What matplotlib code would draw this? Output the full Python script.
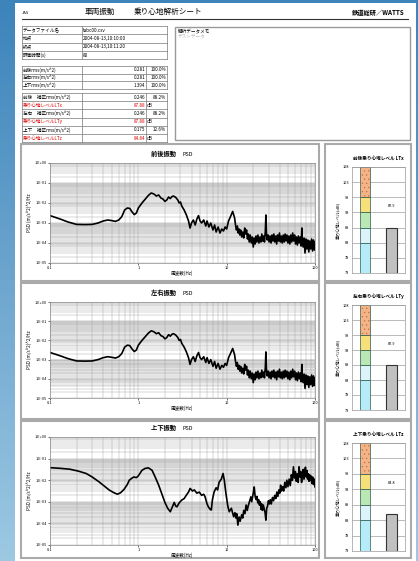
import numpy as np
import matplotlib
matplotlib.use('Agg')
import matplotlib.pyplot as plt
from matplotlib.patches import Rectangle

plt.rcParams['font.family'] = ['Noto Sans CJK JP', 'DejaVu Sans']
plt.rcParams['hatch.linewidth'] = 0.4

W, H = 418, 561

# ---- table data ----
info_labels = ['データファイル名', '始点', '終点', '評価時間(s)']
info_values = ['tabc00.csv', '2004-08-13,10:10:00', '2004-08-13,10:11:20', '80']

rms_labels = ['前後rms(m/s^2)', '左右rms(m/s^2)', '上下rms(m/s^2)']
rms_values = ['0.281', '0.281', '1.394']
rms_pct = ['100.0%', '100.0%', '100.0%']

lt_labels = ['前後　補正rms(m/s^2)', '乗り心地レベルLTx', '左右　補正rms(m/s^2)',
             '乗り心地レベルLTy', '上下　補正rms(m/s^2)', '乗り心地レベルLTz']
lt_values = ['0.246', '87.88', '0.246', '87.88', '0.175', '84.84']
lt_units = ['88.2%', 'dB', '88.2%', 'dB', '12.6%', 'dB']

# ---- PSD data (frequency Hz, log10 of PSD) ----
freq_x = [0.1, 0.13, 0.16, 0.2, 0.25, 0.3, 0.35, 0.4, 0.45, 0.5, 0.55, 0.6, 0.65, 0.7,
          0.75, 0.8, 0.85, 0.9, 0.95, 1.0, 1.1, 1.2, 1.3, 1.4, 1.5, 1.6, 1.7, 1.8, 1.9,
          2.0, 2.1, 2.2, 2.3, 2.4, 2.5, 2.65, 2.8, 2.9, 3.0, 3.1, 3.3, 3.5, 3.7, 3.85,
          4.0, 4.2, 4.4, 4.6, 4.8, 5.0, 5.2, 5.5, 5.8, 6.0, 6.3, 6.6, 7.0, 7.3, 7.6, 8.0,
          8.4, 8.8, 9.2, 9.6, 10.0, 10.5, 11.0, 11.7,
          12.3, 12.6, 12.9, 13.2, 13.5, 13.8, 14.1, 14.4, 14.8, 15.2, 15.6, 16.0, 16.4,
          16.8, 17.2, 17.6, 18.0, 18.5, 19.0, 19.5, 20.0, 20.5, 21.0, 21.5, 22.0, 22.6,
          23.2, 23.8, 24.4, 25.0, 25.6, 26.2, 26.8, 27.4, 27.8, 28.2, 28.8, 29.5, 30.2,
          31.0, 31.8, 32.6, 33.4, 34.2, 35.0, 35.9, 36.8, 37.7, 38.6, 39.6, 40.6, 41.6,
          42.6, 43.7, 44.8, 45.9, 47.0, 48.2, 49.4, 50.6, 51.9, 53.2, 54.5, 55.9, 57.3,
          58.7, 60.2, 61.7, 63.2, 64.8, 66.4, 68.1, 69.8, 71.0, 71.6, 73.4, 75.2, 77.1,
          79.0, 81.0, 83.0, 85.1, 87.2, 89.4, 91.6, 93.9, 96.2, 98.6, 100]
logpsd_x = [-2.63, -2.80, -2.95, -3.07, -3.08, -3.07, -3.0, -2.90, -2.85, -2.88, -2.92,
            -2.85, -2.68, -2.35, -2.25, -2.27, -2.45, -2.58, -2.50, -2.25, -2.0, -1.8,
            -1.62, -1.5, -1.55, -1.65, -1.6, -1.75, -1.80, -1.92, -1.85, -1.70, -1.78,
            -1.68, -1.65, -1.72, -1.85, -2.0, -1.95, -2.15, -2.35, -2.6, -2.9, -3.25,
            -3.0, -2.85, -3.1, -2.8, -2.63, -2.9, -3.0, -2.85, -3.15, -2.9, -3.2, -3.0,
            -3.35, -3.1, -3.45, -3.2, -3.5, -3.3, -3.4, -3.2, -3.3, -2.9, -2.7, -2.42,
            -2.75, -3.1, -3.35, -3.15, -3.5, -3.3, -3.6, -3.35, -3.7, -3.45, -3.75, -3.25,
            -3.55, -3.35, -3.8, -3.55, -3.95, -3.6, -4.0, -3.7, -4.2, -3.75, -4.05, -3.65,
            -3.95, -3.6, -4.0, -3.7, -3.95, -3.55, -3.9, -3.65, -3.95, -3.4, -2.6, -3.5,
            -3.85, -3.6, -3.95, -3.65, -4.0, -3.6, -3.9, -3.55, -3.95, -3.65, -4.05, -3.6,
            -3.9, -3.5, -3.95, -3.65, -4.0, -3.6, -3.95, -3.55, -3.9, -3.6, -4.0, -3.65,
            -4.05, -3.6, -3.95, -3.5, -3.9, -3.6, -4.05, -3.7, -4.1, -3.65, -4.0, -3.7,
            -4.15, -3.25, -3.8, -4.2, -3.75, -4.5, -3.8, -4.3, -3.85, -4.45, -3.9, -4.3,
            -3.8, -4.4, -3.85, -4.35, -3.95]

# 左右 is the same record as 前後 in this sheet
freq_y = freq_x
logpsd_y = logpsd_x

freq_z = [0.1, 0.13, 0.167, 0.21, 0.257, 0.3, 0.36, 0.42, 0.47, 0.53, 0.58, 0.63, 0.69,
          0.75, 0.79, 0.85, 0.89, 0.95, 1.0, 1.1, 1.2, 1.3, 1.43, 1.55, 1.7, 1.85, 2.0,
          2.15, 2.3, 2.45, 2.55, 2.65, 2.74, 2.9, 3.1, 3.3, 3.5, 3.7, 3.86, 4.1, 4.3,
          4.6, 4.9, 5.2, 5.5, 5.7, 6.0, 6.2, 6.5, 6.7, 6.9, 7.2, 7.6, 7.9, 8.2, 8.7, 9.1,
          9.4, 9.8, 10.3, 10.7, 11.3,
          12.0, 12.4, 12.7, 13.0, 13.4, 13.8, 14.2, 14.8, 15.2, 15.6, 16.1, 16.6, 17.1,
          17.5, 18.1, 18.8, 19.2, 19.6, 20.0, 20.5, 21.0, 21.5, 22.0, 22.5, 23.0, 23.5,
          24.0, 24.5, 25.0, 25.4, 26.0, 26.5, 27.2, 27.8, 28.4, 29.0, 29.7, 30.5, 31.2,
          32.0, 33.0, 34.0, 35.0, 36.0, 37.0, 38.0, 39.0, 40.0, 40.8, 41.8, 43.0, 44.2,
          45.5, 46.8, 48.0, 49.4, 51.0, 52.5, 54.0, 55.5, 57.0, 58.5, 60.0, 61.5, 63.0,
          64.5, 66.0, 67.5, 69.0, 70.5, 72.0, 73.5, 75.0, 76.5, 78.0, 79.5, 81.0, 82.5,
          84.0, 85.5, 87.0, 88.5, 90.0, 92.0, 94.0, 96.0, 98.0, 100]
logpsd_z = [-1.42, -1.45, -1.49, -1.58, -1.69, -1.85, -2.08, -2.30, -2.46, -2.58, -2.65,
            -2.58, -2.42, -2.2, -2.0, -1.9, -1.85, -1.88, -1.80, -1.54, -1.45, -1.43,
            -1.54, -1.85, -2.23, -2.65, -3.03, -3.3, -3.46, -3.2, -3.03, -3.2, -3.23,
            -3.05, -2.92, -2.85, -2.69, -2.55, -2.38, -2.5, -2.45, -2.6, -2.55, -2.7,
            -2.65, -2.77, -3.1, -3.23, -3.35, -3.38, -2.9, -2.55, -2.35, -2.45, -2.1,
            -1.95, -1.69, -2.0, -2.6, -3.2, -3.46, -3.3,
            -3.69, -3.5, -3.75, -3.55, -4.08, -3.7, -3.9, -3.6, -3.75, -3.4, -3.55, -3.15,
            -3.4, -3.2, -3.0, -2.77, -3.0, -2.8, -2.6, -2.31, -2.75, -2.9, -2.75, -3.05,
            -2.9, -3.15, -3.0, -3.35, -3.1, -3.4, -3.15, -3.3, -3.5, -3.85, -3.3, -3.2,
            -2.95, -3.1, -2.9, -3.1, -2.8, -2.95, -2.7, -2.85, -2.55, -2.75, -2.45, -2.6,
            -2.23, -2.5, -2.3, -2.5, -2.1, -2.35, -2.0, -2.3, -1.95, -2.25, -1.75, -2.0,
            -1.38, -1.9, -1.6, -2.05, -1.7, -2.1, -1.38, -1.85, -1.6, -2.1, -1.7, -1.5,
            -1.95, -1.6, -1.4, -1.85, -1.55, -1.95, -1.7, -2.05, -1.75, -2.0, -1.8, -2.15,
            -1.85, -2.2, -1.95, -2.31]

psd_names = ['前後振動', '左右振動', '上下振動']

# ---- ride comfort level data ----
lt_titles = ['前後乗り心地レベル LTx', '左右乗り心地レベル LTy', '上下乗り心地レベル LTz']
lt_levels = [87.88, 87.88, 84.84]
lt_text = ['87.9', '87.9', '84.8']
band_bottoms = [73, 83, 88, 93, 98]
band_heights = [10, 5, 5, 5, 10]
band_colors = ['#b5ecf7', '#dcf3fa', '#b9e8b4', '#f7e07a', '#f5b487']

fig = plt.figure(figsize=(W / 100, H / 100), dpi=100)


def box(x0, y0, x1, y1):
    return [x0 / W, 1 - y1 / H, (x1 - x0) / W, (y1 - y0) / H]


# background
bg = fig.add_axes([0, 0, 1, 1])
grad = np.linspace(0, 1, 100).reshape(-1, 1)
bg.imshow(grad, aspect='auto', cmap=matplotlib.colors.LinearSegmentedColormap.from_list(
    'bgc', ['#3d84bb', '#9cc8e2']), extent=[0, 1, 0, 1], origin='upper')
bg.axis('off')

pg = fig.add_axes([0, 0, 1, 1])
pg.set_xlim(0, W)
pg.set_ylim(H, 0)
pg.axis('off')
pg.patch.set_alpha(0)
pg.add_patch(Rectangle((15, 3), 401, 560, facecolor='white', edgecolor='none'))

# header
pg.text(22, 15, 'JAS', fontsize=3, va='bottom')
pg.text(85, 16, '車両振動', fontsize=5.5, va='bottom')
pg.text(134, 16, '乗り心地解析シート', fontsize=5.5, va='bottom')
pg.text(405, 16, '鉄道総研／WATTS', fontsize=4.5, fontweight='bold', va='bottom', ha='right')
pg.plot([22, 408], [18.5, 18.5], color='#333333', lw=0.8)


def draw_table(x0, x1, y0, rh, cols, rows, colors=None):
    n = len(rows)
    for i in range(n + 1):
        pg.plot([x0, x1], [y0 + i * rh, y0 + i * rh], color='#777777', lw=0.5)
    for c in [x0] + cols + [x1]:
        pg.plot([c, c], [y0, y0 + n * rh], color='#777777', lw=0.5)
    for i, row in enumerate(rows):
        col = colors[i] if colors else 'black'
        yy = y0 + (i + 0.5) * rh
        pg.text(x0 + 1, yy, row[0], fontsize=3.3, va='center', color=col)
        if len(row) == 2:
            pg.text(cols[0] + 1, yy, row[1], fontsize=3.3, va='center')
        else:
            pg.text(cols[1] - 1, yy, row[1], fontsize=3.3, va='center', ha='right', color=col)
            if row[2] == 'dB':
                pg.text(cols[1] + 1, yy, row[2], fontsize=3.3, va='center')
            else:
                pg.text(x1 - 1, yy, row[2], fontsize=3.3, va='center', ha='right')


draw_table(22, 167, 26, 8.3, [82], list(zip(info_labels, info_values)))
draw_table(22, 167, 66, 7.7, [82, 146], list(zip(rms_labels, rms_values, rms_pct)))
lt_colors = ['black', '#dd0000'] * 3
draw_table(22, 167, 93, 8.2, [82, 146], list(zip(lt_labels, lt_values, lt_units)), lt_colors)

# memo box
pg.add_patch(Rectangle((175, 27), 235, 113, facecolor='white', edgecolor='#999999', lw=1.0))
pg.text(178, 32, '解析データメモ', fontsize=3.3, va='center')
pg.text(178, 37, 'テストデータ', fontsize=3.3, va='center', color='#bbbbbb')

# panels
panel_y = [(144, 281), (283, 419), (421, 558)]
psd_axes_y = [(163, 263), (302, 398), (437, 545)]
bar_axes_y = [(167, 273), (305, 410), (443, 551)]
freqs = [freq_x, freq_y, freq_z]
logs = [logpsd_x, logpsd_y, logpsd_z]

for k in range(3):
    py0, py1 = panel_y[k]
    pg.add_patch(Rectangle((21, py0), 298, py1 - py0, facecolor='white',
                           edgecolor='#aaaaaa', lw=1.5))
    pg.add_patch(Rectangle((325, py0), 86, py1 - py0, facecolor='white',
                           edgecolor='#aaaaaa', lw=1.5))

    # PSD chart
    ay0, ay1 = psd_axes_y[k]
    ax = fig.add_axes(box(50, ay0, 315, ay1))
    ax.set_xscale('log')
    ax.set_yscale('log')
    ax.set_xlim(0.1, 100)
    ax.set_ylim(1e-5, 1)
    ax.axhspan(1e-2, 1e-1, color='#e4e4e4', zorder=0)
    ax.axhspan(1e-4, 1e-3, color='#e4e4e4', zorder=0)
    ax.grid(True, which='both', color='#a0a0a0', lw=0.3)
    ax.set_axisbelow(True)
    ax.plot(freqs[k], 10.0 ** np.array(logs[k]), color='black', lw=1.2)
    ax.set_yticks([1e-5, 1e-4, 1e-3, 1e-2, 1e-1, 1])
    ax.set_yticklabels(['1.E-05', '1.E-04', '1.E-03', '1.E-02', '1.E-01', '1.E+00'])
    ax.set_xticks([0.1, 1, 10, 100])
    ax.set_xticklabels(['0.1', '1', '10', '100'])
    ax.tick_params(labelsize=2.8, length=1.5, width=0.4, pad=1)
    ax.tick_params(which='minor', length=0)
    for s in ax.spines.values():
        s.set_color('#888888')
        s.set_linewidth(0.5)
    ax.text(0.5, 1.06, psd_names[k] + '　', transform=ax.transAxes, fontsize=4.5,
            fontweight='bold', ha='right', va='bottom')
    ax.text(0.5, 1.06, 'PSD', transform=ax.transAxes, fontsize=4, ha='left', va='bottom')
    ax.set_xlabel('周波数(Hz)', fontsize=3.3, labelpad=0)
    ax.set_ylabel('PSD (m/s^2)^2/Hz', fontsize=3.3, labelpad=2)

    # ride comfort level bar chart
    by0, by1 = bar_axes_y[k]
    bx = fig.add_axes(box(352, by0, 405, by1))
    bx.bar([0] * 5, band_heights, bottom=band_bottoms, width=0.38, color=band_colors,
           edgecolor='#2a5a50', lw=0.5, zorder=2)
    bx.bar([0], [band_heights[4]], bottom=[band_bottoms[4]], width=0.38, color='none',
           hatch='....', edgecolor='#c07040', lw=0, zorder=3)
    bx.bar([1], [lt_levels[k] - 73], bottom=[73], width=0.4, color='#c0c0c0',
           edgecolor='#333333', lw=0.8, zorder=2)
    bx.text(1, 95, lt_text[k], fontsize=2.8, ha='center', va='center')
    bx.set_xlim(-0.5, 1.5)
    bx.set_ylim(73, 108)
    bx.set_yticks(np.arange(73, 109, 5))
    bx.set_xticks([])
    bx.grid(True, axis='y', color='#888888', lw=0.4)
    bx.set_axisbelow(True)
    bx.tick_params(labelsize=2.8, length=0, pad=2)
    for s in bx.spines.values():
        s.set_color('#999999')
        s.set_linewidth(0.5)
    bx.set_title(lt_titles[k], fontsize=3.3, fontweight='bold', pad=5)
    bx.set_ylabel('乗り心地レベル(dB)', fontsize=3, labelpad=2)

fig.savefig('out.png', dpi=100)
